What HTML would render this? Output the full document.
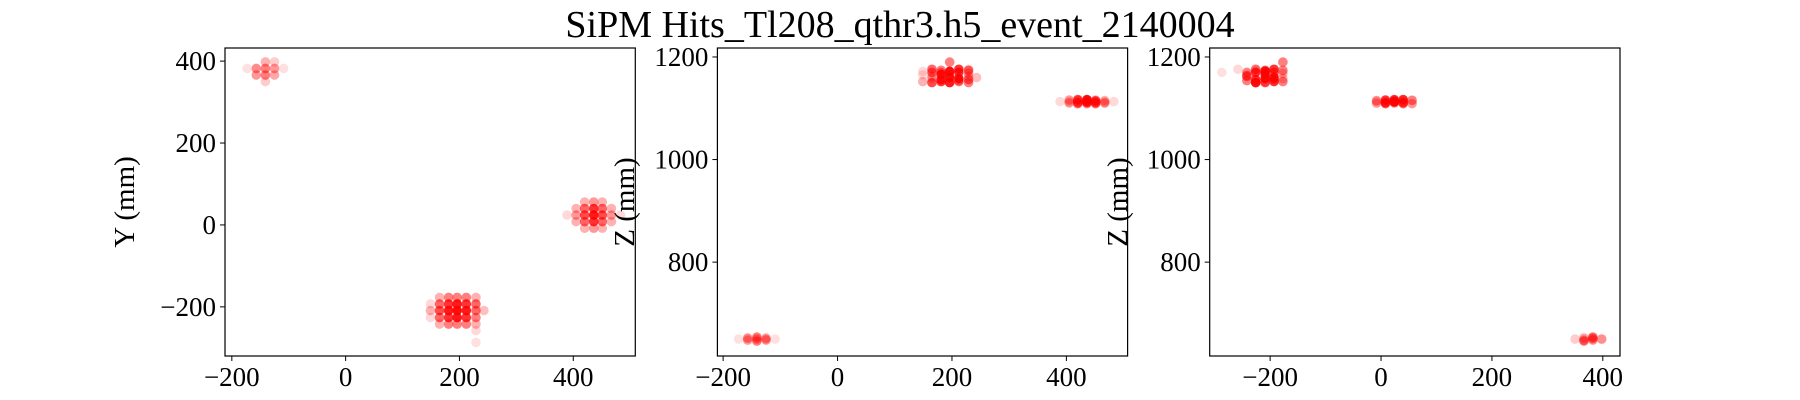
<!DOCTYPE html>
<html><head><meta charset="utf-8"><style>
html,body{margin:0;padding:0;background:#fff;}
svg{display:block;font-family:"Liberation Serif",serif;}
</style></head><body>
<svg id="fig" width="1800" height="400" viewBox="0 0 1800 400">
<text x="900" y="37" text-anchor="middle" font-size="38">SiPM Hits_Tl208_qthr3.h5_event_2140004</text>
</svg>
<script>
// hit data: X, Y, Z (mm) and marker alpha
const hx = [
 -157,-157,-141,-141,-141,-141,-125,-125,-125,-173,-109,
 149,149,149,
 165,165,165,165,165,
 181,181,181,181,181,
 196,196,196,196,196,
 212,212,212,212,212,
 229,229,229,229,229,229,243,229,
 405,405,405,
 420,420,420,420,420,
 436,436,436,436,436,
 451,451,451,451,451,
 467,467,467,389,483
];
const hy = [
 366,382,350,366,382,398,366,382,398,382,382,
 -193,-209,-226,
 -177,-193,-209,-226,-242,
 -177,-193,-209,-226,-242,
 -177,-193,-209,-226,-242,
 -177,-193,-209,-226,-242,
 -177,-193,-209,-226,-242,-258,-209,-287,
 8,24,40,
 -8,8,24,40,56,
 -8,8,24,40,56,
 -8,8,24,40,56,
 8,24,40,24,24
];
const hz = [
 648,652,650,646,654,650,652,648,650,650,650,
 1165,1152,1172,
 1158,1170,1150,1176,1162,
 1174,1152,1166,1156,1170,
 1190,1160,1172,1150,1164,
 1152,1176,1158,1170,1154,
 1168,1156,1174,1150,1162,1176,1160,1170,
 1110,1116,1112,
 1114,1109,1117,1111,1115,
 1110,1116,1112,1117,1109,
 1115,1111,1114,1109,1116,
 1112,1110,1115,1113,1113
];
const ha = [
 .4,.45,.2,.5,.5,.3,.35,.4,.2,.12,.12,
 .15,.3,.15,
 .3,.6,.7,.6,.3,
 .5,.8,.9,.8,.5,
 .5,.9,.95,.9,.5,
 .5,.8,.9,.8,.5,
 .3,.6,.6,.5,.3,.15,.25,.12,
 .3,.4,.3,
 .3,.6,.7,.6,.3,
 .4,.8,.9,.8,.4,
 .3,.6,.7,.6,.3,
 .3,.4,.3,.15,.15
];
const xTicks = [-200, 0, 200, 400];
const yTicks = [-200, 0, 200, 400];
const zTicks = [800, 1000, 1200];

const NS = "http://www.w3.org/2000/svg";
const svg = document.getElementById('fig');
function mk(tag, attrs, parent) {
  const e = document.createElementNS(NS, tag);
  for (const k in attrs) e.setAttribute(k, attrs[k]);
  (parent || svg).appendChild(e);
  return e;
}
const B = 356;
const panels = [
  {name:'xy', L:225, R:635.3, xmin:-212, xmax:509, ymin:-320, ymax:432, xs:hx, ys:hy, yt:yTicks, label:'Y (mm)', lx:124},
  {name:'xz', L:717.4, R:1127.6, xmin:-210, xmax:507, ymin:617, ymax:1217.5, xs:hx, ys:hz, yt:zTicks, label:'Z (mm)', lx:624},
  {name:'yz', L:1209.7, R:1620, xmin:-309, xmax:431, ymin:617, ymax:1217.5, xs:hy, ys:hz, yt:zTicks, label:'Z (mm)', lx:1117}
];
panels.forEach(p => {
  const top = 48;
  const sx = v => p.L + (v - p.xmin) / (p.xmax - p.xmin) * (p.R - p.L);
  const sy = v => B - (v - p.ymin) / (p.ymax - p.ymin) * (B - top);
  const g = mk('g', {});
  
  
  const pts = mk('g', {}, g);
  
  
  for (let i = 0; i < p.xs.length; i++) {
    const c = mk('circle', {cx: sx(p.xs[i]), cy: sy(p.ys[i]), r: 4.8, fill: 'red', 'fill-opacity': ha[i]}, pts);
    
    
  }
  const fr = mk('rect', {x: p.L, y: top, width: p.R - p.L, height: B - top, fill: 'none', stroke: '#000', 'stroke-width': 1.2}, g);
  
  
  xTicks.forEach(t => {
    const x = sx(t);
    mk('line', {x1: x, x2: x, y1: B, y2: B + 5, stroke: '#000', 'stroke-width': 1}, g);
    const tx = mk('text', {x: x, y: 386, 'text-anchor': 'middle', 'font-size': 27}, g);
    tx.textContent = t < 0 ? '\u2212' + (-t) : String(t);
    
    
  });
  p.yt.forEach(t => {
    const y = sy(t);
    mk('line', {x1: p.L - 5, x2: p.L, y1: y, y2: y, stroke: '#000', 'stroke-width': 1}, g);
    const tx = mk('text', {x: p.L - 9, y: y + 9, 'text-anchor': 'end', 'font-size': 27}, g);
    tx.textContent = t < 0 ? '\u2212' + (-t) : String(t);
    
    
  });
  const yl = mk('text', {x: 0, y: 0, 'text-anchor': 'middle', 'font-size': 29, transform: 'translate(' + (p.lx + 10) + ',202) rotate(-90)'}, g);
  yl.textContent = p.label;
  
  
});
</script>
</body></html>
